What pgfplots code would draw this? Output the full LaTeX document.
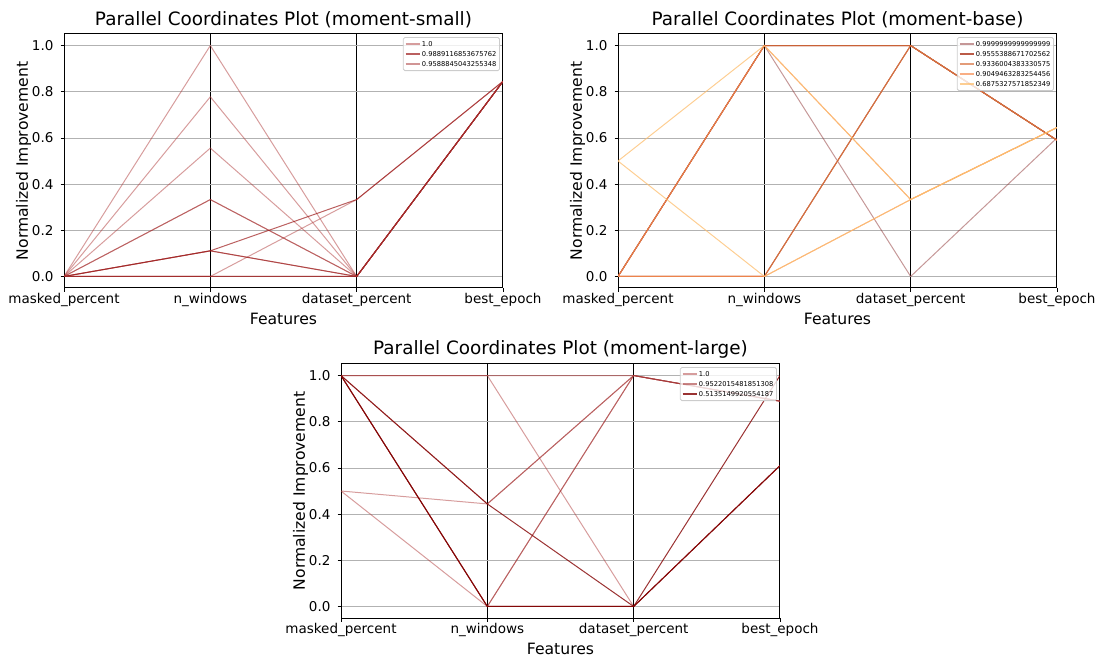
\documentclass[border=0pt]{standalone}
\usepackage{fontspec}
\setmainfont{DejaVu Sans}
\usepackage{pgfplots}
\pgfplotsset{compat=1.18}

% TL colours
\definecolor{tlA}{RGB}{175,60,60}
\definecolor{tlB}{RGB}{150,10,10}
\definecolor{tlC}{RGB}{165,45,45}
% TR colours
\definecolor{trA}{RGB}{140,50,50}
\definecolor{trB}{RGB}{170,50,25}
\definecolor{trC}{RGB}{215,115,65}
\definecolor{trD}{RGB}{248,140,80}
\definecolor{trE}{RGB}{253,190,110}
% Bottom colours
\definecolor{bA}{RGB}{175,60,60}
\definecolor{bB}{RGB}{165,55,55}
\definecolor{bC}{RGB}{130,0,0}

\pgfplotsset{
  pcp/.style={
    scale only axis, width=219.5pt, height=127pt,
    xmin=0, xmax=3, ymin=-0.05, ymax=1.05,
    xtick={0,1,2,3},
    xticklabels={masked\_percent, n\_windows, dataset\_percent, best\_epoch},
    ytick={0,0.2,0.4,0.6,0.8,1.0},
    yticklabel style={/pgf/number format/.cd, fixed, fixed zerofill, precision=1},
    /pgf/number format/assume math mode=true,
    tick label style={font=\fontsize{6.75pt}{8pt}\selectfont},
    xticklabel style={yshift=2.5pt},
    label style={font=\fontsize{7.8pt}{9pt}\selectfont},
    xlabel style={yshift=3.8pt},
    ylabel style={yshift=-6.5pt},
    title style={font=\fontsize{9.2pt}{11pt}\selectfont, yshift=-6.5pt},
    xlabel={Features}, ylabel={Normalized Improvement},
    tick align=outside, tick pos=left, major tick length=1.75pt,
    xmajorgrids=true, ymajorgrids=true,
    x grid style={black, line width=0.5pt},
    y grid style={gray!60, line width=0.4pt},
    axis line style={black, line width=0.5pt},
    every tick/.style={black, line width=0.4pt},
    no markers,
    every axis plot/.append style={line width=0.5pt},
    legend cell align=left,
    legend style={font=\fontsize{3.35pt}{4pt}\selectfont, draw=gray!40, rounded corners=0.8pt,
      fill=white, fill opacity=0.8, text opacity=1, anchor=north east,
      at={(rel axis cs:0.993,0.988)}, inner sep=0.8pt, row sep=0pt,
      nodes={inner sep=0.7pt, text height=2.8pt, text depth=0.8pt}},
    legend image code/.code={\draw[#1, line width=0.8pt] (0pt,0pt) -- (7pt,0pt);},
  }
}

\begin{document}
\begin{tikzpicture}
\path[use as bounding box] (0,0) rectangle (552.5pt,330pt);

% ---------- moment-small ----------
\begin{axis}[pcp, at={(32pt,186pt)}, anchor=south west,
  title={Parallel Coordinates Plot (moment-small)}]
\addplot[tlA, opacity=0.5] coordinates {(0,0) (1,1) (2,0) (3,0.845)};
\addlegendentry{1.0}
\addplot[tlA, opacity=0.5, forget plot] coordinates {(0,0) (1,0.778) (2,0) (3,0.845)};
\addplot[tlA, opacity=0.5, forget plot] coordinates {(0,0) (1,0.556) (2,0) (3,0.845)};
\addplot[tlA, opacity=0.5, forget plot] coordinates {(0,0) (1,0) (2,0.333) (3,0.845)};
\addplot[tlB, opacity=0.65] coordinates {(0,0) (1,0.111) (2,0) (3,0.845)};
\addlegendentry{0.9889116853675762}
\addplot[tlB, opacity=0.65, forget plot] coordinates {(0,0) (1,0) (2,0) (3,0.845)};
\addplot[tlB, opacity=0.65, forget plot] coordinates {(0,0) (1,0.111) (2,0.333) (3,0.845)};
\addplot[tlC, opacity=0.5] coordinates {(0,0) (1,0.333) (2,0) (3,0.845)};
\addlegendentry{0.9588845043255348}
\addplot[tlC, opacity=0.5, forget plot] coordinates {(0,0) (1,0.333) (2,0) (3,0.845)};
\addplot[tlC, opacity=0.5, forget plot] coordinates {(0,0) (1,0.111) (2,0) (3,0.845)};
\addplot[tlC, opacity=0.5, forget plot] coordinates {(0,0) (1,0) (2,0) (3,0.845)};
\end{axis}

% ---------- moment-base ----------
\begin{axis}[pcp, at={(309pt,186pt)}, anchor=south west,
  title={Parallel Coordinates Plot (moment-base)}]
\addplot[trA, opacity=0.5] coordinates {(0,0) (1,1) (2,0) (3,0.60)};
\addlegendentry{0.9999999999999999}
\addplot[trB, opacity=0.8] coordinates {(0,0) (1,1) (2,1) (3,0.59)};
\addlegendentry{0.9555388671702562}
\addplot[trB, opacity=0.8, forget plot] coordinates {(0,0) (1,1) (2,1) (3,0.59)};
\addplot[trB, opacity=0.8, forget plot] coordinates {(0,0) (1,0) (2,1) (3,0.59)};
\addplot[trC, opacity=0.7] coordinates {(0,0) (1,0) (2,1) (3,0.59)};
\addlegendentry{0.9336004383330575}
\addplot[trC, opacity=0.7, forget plot] coordinates {(0,0) (1,0) (2,1) (3,0.59)};
\addplot[trC, opacity=0.7, forget plot] coordinates {(0,0) (1,1) (2,1) (3,0.59)};
\addplot[trD, opacity=0.7] coordinates {(0,0) (1,0) (2,0.333) (3,0.645)};
\addlegendentry{0.9049463283254456}
\addplot[trD, opacity=0.7, forget plot] coordinates {(0,0) (1,1) (2,0.333) (3,0.645)};
\addplot[trE, opacity=0.75] coordinates {(0,0.5) (1,1) (2,0.333) (3,0.645)};
\addlegendentry{0.6875327571852349}
\addplot[trE, opacity=0.75, forget plot] coordinates {(0,0.5) (1,0) (2,0.333) (3,0.645)};
\end{axis}

% ---------- moment-large ----------
\begin{axis}[pcp, at={(170.5pt,21pt)}, anchor=south west,
  title={Parallel Coordinates Plot (moment-large)}]
\addplot[bA, opacity=0.5] coordinates {(0,0.5) (1,0.444) (2,1) (3,0.889)};
\addlegendentry{1.0}
\addplot[bA, opacity=0.5, forget plot] coordinates {(0,0.5) (1,0) (2,1) (3,0.889)};
\addplot[bA, opacity=0.5, forget plot] coordinates {(0,1) (1,1) (2,0) (3,0.61)};
\addplot[bB, opacity=0.6] coordinates {(0,1) (1,1) (2,1) (3,0.889)};
\addlegendentry{0.9522015481851308}
\addplot[bB, opacity=0.6, forget plot] coordinates {(0,1) (1,0.444) (2,1) (3,0.889)};
\addplot[bB, opacity=0.6, forget plot] coordinates {(0,1) (1,0) (2,1) (3,0.889)};
\addplot[bC, opacity=0.8] coordinates {(0,1) (1,0) (2,0) (3,1)};
\addlegendentry{0.5135149920554187}
\addplot[bC, opacity=0.8, forget plot] coordinates {(0,1) (1,0.444) (2,0) (3,0.61)};
\addplot[bC, opacity=0.8, forget plot] coordinates {(0,1) (1,0) (2,0) (3,0.61)};
\end{axis}
\end{tikzpicture}
\end{document}
